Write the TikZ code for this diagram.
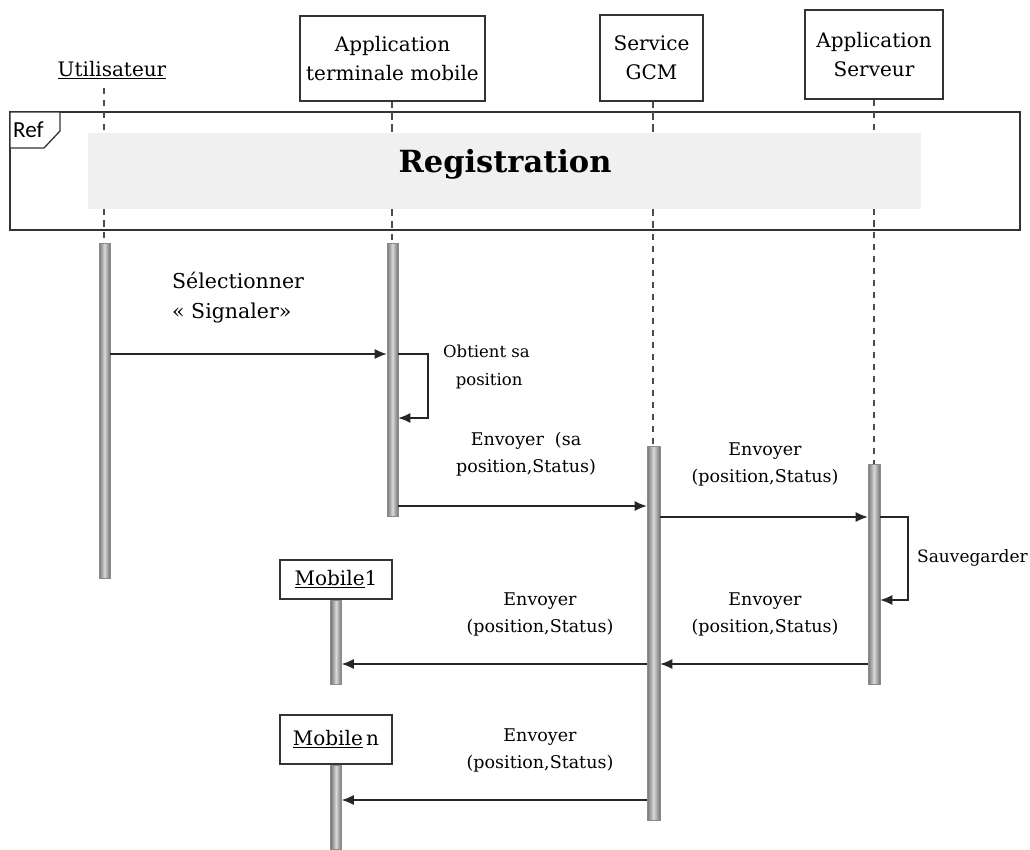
\documentclass[tikz,border=0pt]{standalone}
\usepackage{fontspec}
\setmainfont{DejaVu Serif}
\newfontfamily\reffont{Carlito}
\usetikzlibrary{arrows.meta}
\begin{document}
\begin{tikzpicture}[x=1pt,y=-1pt,
  objbox/.style={draw=black!80,line width=1.3pt,fill=white,align=center,inner sep=0pt,font=\fontsize{20}{29}\selectfont},
  lifeline/.style={draw=black!70,line width=1.2pt,dash pattern=on 6pt off 6pt},
  actbar/.style={draw=black!45,line width=0.6pt,left color=black!55,right color=black!55,middle color=black!15,inner sep=0pt,minimum width=11pt},
  msg/.style={draw=black!85,line width=1.2pt,-{Latex[length=12pt,width=10pt]}},
  lbl/.style={align=center,font=\fontsize{17.5}{27}\selectfont,inner sep=0pt},
]
\useasboundingbox (0,0) rectangle (1030,849);

% objects
\node[inner sep=0pt,font=\fontsize{20}{24}\selectfont] (u) at (112,70) {\underline{Utilisateur}};
\node[objbox,minimum width=185pt,minimum height=85pt] (am) at (392.5,58.5) {Application\\terminale\ mobile};
\node[objbox,minimum width=103pt,minimum height=86pt] (gcm) at (651.5,58) {Service\\GCM};
\node[objbox,minimum width=138pt,minimum height=89pt] (srv) at (874,54.5) {Application\\Serveur};

% lifelines
\draw[lifeline] (104,88) -- (104,243);
\draw[lifeline] (am.south) ++(-0.5,0) coordinate (amtop) -- (392,243);
\draw[lifeline] (gcm.south) ++(1.5,0) coordinate (gcmtop) -- (653,446);
\draw[lifeline] (srv.south) -- (874,464);

% ref frame
\draw[draw=black!80,line width=1.5pt,fill=none] (10,112) rectangle (1020,230);
\fill[black!6] (88,133) rectangle (921,209);
\draw[lifeline] (104,112) -- (104,133);
\draw[lifeline] (104,209) -- (104,230);
\draw[lifeline] (392,112) -- (392,133);
\draw[lifeline] (392,209) -- (392,230);
\draw[lifeline] (653,112) -- (653,133);
\draw[lifeline] (653,209) -- (653,230);
\draw[lifeline] (874,112) -- (874,133);
\draw[lifeline] (874,209) -- (874,230);
\draw[draw=black!80,line width=1.3pt,fill=white] (10,112) -- (60,112) -- (60,131) -- (44,148) -- (10,148) -- cycle;
\node[anchor=west,inner sep=0pt,font=\reffont\fontsize{23}{26}\selectfont] (ref) at (13,130) {Ref};
\node[font=\fontsize{30.5}{36}\selectfont\bfseries,inner sep=0pt] (reg) at (505,164) {Registration};

% activation bars
\node[actbar,minimum height=335pt] (bu) at (104.5,410.5) {};
\node[actbar,minimum height=273pt] (bam) at (392.5,379.5) {};
\node[actbar,minimum height=374pt,minimum width=13pt] (bg) at (653.5,633) {};
\node[actbar,minimum height=220pt,minimum width=12pt] (bs) at (874,574) {};

% mobiles
\node[objbox,minimum width=112pt,minimum height=39pt] (m1) at (336,579.5) {\underline{Mobile}1};
\node[actbar,minimum height=84pt] (bm1) at (336,642) {};
\node[objbox,minimum width=112pt,minimum height=49pt] (mn) at (336,739.5) {\underline{Mobile}\,n};
\node[actbar,minimum height=84pt] (bmn) at (336,807) {};

% message 1
\node[anchor=west,align=left,inner sep=0pt,font=\fontsize{20.5}{30}\selectfont] (l1) at (172,298) {Sélectionner\\« Signaler»};
\draw[msg] (bu.east |- 0,354) -- (bam.west |- 0,354);

% self loop app mobile
\coordinate (sl1a) at (428,354);
\coordinate (sl1b) at (428,418);
\draw[msg] (bam.east |- 0,354) -- (sl1a) -- (sl1b) -- (bam.east |- 0,418);
\node[anchor=west,align=left,lbl,font=\fontsize{16.5}{28}\selectfont] (l2) at (443,367) {Obtient sa\\\ position};

% message to GCM
\node[lbl] (l3) at (526,454) {Envoyer\ \ (sa\\position,Status)};
\draw[msg] (bam.east |- 0,506) -- (bg.west |- 0,506);

% message to server
\node[lbl] (l4) at (765,464) {Envoyer\\(position,Status)};
\draw[msg] (bg.east |- 0,517) -- (bs.west |- 0,517);

% self loop server
\coordinate (sl2a) at (908,517);
\coordinate (sl2b) at (908,600);
\draw[msg] (bs.east |- 0,517) -- (sl2a) -- (sl2b) -- (bs.east |- 0,600);
\node[anchor=west,lbl,font=\fontsize{17}{27}\selectfont] (l5) at (917,558) {Sauvegarder};

% server to GCM
\node[lbl] (l6) at (765,614) {Envoyer\\(position,Status)};
\draw[msg] (bs.west |- 0,664) -- (bg.east |- 0,664);

% GCM to Mobile1
\node[lbl] (l7) at (540,614) {Envoyer\\(position,Status)};
\draw[msg] (bg.west |- 0,664) -- (bm1.east |- 0,664);

% GCM to Mobile n
\node[lbl] (l8) at (540,750) {Envoyer\\(position,Status)};
\draw[msg] (bg.west |- 0,800) -- (bmn.east |- 0,800);
\end{tikzpicture}
\end{document}
